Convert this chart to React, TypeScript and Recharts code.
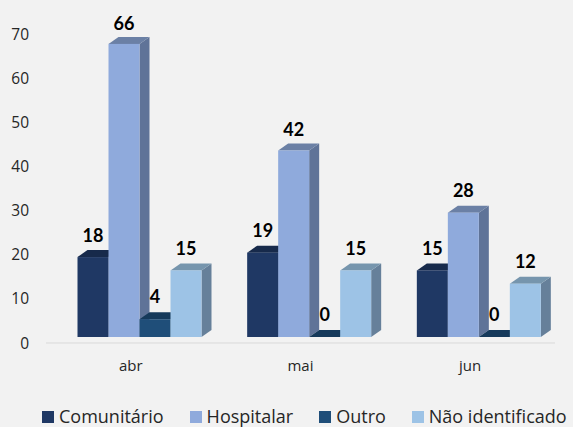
import React from "react";
import { BarChart, Bar, XAxis, YAxis, LabelList, Legend } from "recharts";

const months = ["abr", "mai", "jun"];
const comunitario = [18, 19, 15];
const hospitalar = [66, 42, 28];
const outro = [4, 0, 0];
const naoIdentificado = [15, 15, 12];
const yTicks = [0, 10, 20, 30, 40, 50, 60, 70];

const data = months.map((month, i) => ({
  month,
  comunitario: comunitario[i],
  hospitalar: hospitalar[i],
  outro: outro[i],
  naoIdentificado: naoIdentificado[i],
}));

const FONT = "'Open Sans', sans-serif";
const DEPTH_X = 10;
const DEPTH_Y = 7;
// the 3d floor sits above the axis line and the bars are pushed right of the band centre
const SHIFT_X = 8.5;
const SHIFT_Y = -6;
// the picture's bars run a touch taller than its tick spacing
const STRETCH = 1.006;

const Bar3D = (props: any) => {
  const { x, y, width, height, fill, top, side } = props;
  const l = x + SHIFT_X;
  const r = l + width;
  const b = y + height + SHIFT_Y;
  const h = height * STRETCH;
  const t = b - h;
  return (
    <g>
      <path
        d={`M${r},${t} L${r + DEPTH_X},${t - DEPTH_Y} L${r + DEPTH_X},${b - DEPTH_Y} L${r},${b} Z`}
        fill={side}
      />
      <path
        d={`M${l},${t} L${l + DEPTH_X},${t - DEPTH_Y} L${r + DEPTH_X},${t - DEPTH_Y} L${r},${t} Z`}
        fill={top}
      />
      <rect x={l} y={t} width={width} height={h} fill={fill} />
    </g>
  );
};

const ValueLabel = (props: any) => {
  const { x, y, width, value } = props;
  return (
    <text
      x={x + SHIFT_X + width / 2}
      y={y + SHIFT_Y - 16}
      textAnchor="middle"
      fontFamily="Lato, sans-serif"
      fontWeight={700}
      fontSize={18}
      fill="#000"
    >
      {value}
    </text>
  );
};

const LegendRow = ({ payload }: any) => (
  <div style={{ display: "flex", alignItems: "center", fontFamily: FONT, fontSize: 18, color: "#262626", lineHeight: "21px" }}>
    {(payload || []).map((item: any, i: number) => (
      <div key={item.value} style={{ display: "flex", alignItems: "center", marginLeft: i === 0 ? 0 : 26 }}>
        <span style={{ width: 12, height: 12, background: item.color, marginRight: 5, display: "inline-block" }} />
        {item.value}
      </div>
    ))}
  </div>
);

const series = [
  { key: "comunitario", name: "Comunitário", fill: "#1f3864", top: "#172a4b", side: "#172a4b" },
  { key: "hospitalar", name: "Hospitalar", fill: "#8faadc", top: "#6b80a5", side: "#5f7398" },
  { key: "outro", name: "Outro", fill: "#1f4e79", top: "#163a5b", side: "#163a5b" },
  { key: "naoIdentificado", name: "Não identificado", fill: "#9dc3e6", top: "#7695ad", side: "#66809a" },
];

export default function App() {
  return (
    <div style={{ position: "absolute", left: 0, top: 0, width: 573, height: 427, background: "#f2f2f2" }}>
      <BarChart
        width={573}
        height={427}
        data={data}
        barSize={31}
        barGap={0}
        margin={{ top: 34, right: 18, bottom: 39, left: 0 }}
      >
        <XAxis
          dataKey="month"
          tickLine={false}
          axisLine={{ stroke: "#d9d9d9" }}
          tick={{ fontFamily: FONT, fontSize: 15, fill: "#262626" }}
          tickMargin={11}
          height={24}
        />
        <YAxis
          domain={[0, 70]}
          ticks={yTicks}
          width={46}
          axisLine={false}
          tickLine={false}
          tick={{ fontFamily: FONT, fontSize: 15.5, fill: "#262626" }}
          tickMargin={11}
        />
        <Legend
          content={<LegendRow />}
          verticalAlign="bottom"
          itemSorter={null}
          wrapperStyle={{ left: 42, bottom: 0, width: 531 }}
        />
        {series.map((s) => (
          <Bar
            key={s.key}
            dataKey={s.key}
            name={s.name}
            fill={s.fill}
            isAnimationActive={false}
            shape={(p: any) => <Bar3D {...p} fill={s.fill} top={s.top} side={s.side} />}
          >
            <LabelList dataKey={s.key} content={<ValueLabel />} />
          </Bar>
        ))}
      </BarChart>
    </div>
  );
}
